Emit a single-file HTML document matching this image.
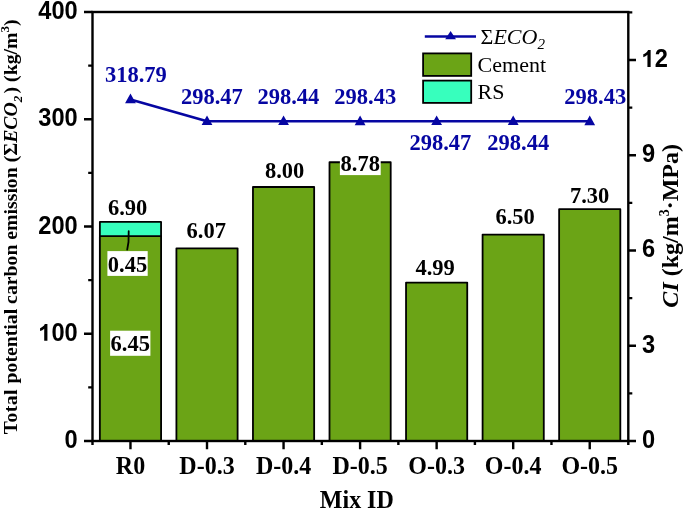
<!DOCTYPE html><html><head><meta charset="utf-8"><style>html,body{margin:0;padding:0;background:#fff;width:685px;height:510px;overflow:hidden}svg{display:block;filter:blur(0.4px)}</style></head><body>
<svg width="685" height="510" viewBox="0 0 685 510">
<rect width="685" height="510" fill="#fff"/>
<rect x="99.87" y="221.92" width="61.2" height="219.08" fill="#37ffbd" stroke="#000" stroke-width="1.8" stroke-linejoin="round"/>
<rect x="99.87" y="236.21" width="61.2" height="204.79" fill="#6ba416" stroke="#000" stroke-width="1.8" stroke-linejoin="round"/>
<rect x="176.41" y="248.28" width="61.2" height="192.72" fill="#6ba416" stroke="#000" stroke-width="1.8" stroke-linejoin="round"/>
<rect x="252.96" y="187.00" width="61.2" height="254.00" fill="#6ba416" stroke="#000" stroke-width="1.8" stroke-linejoin="round"/>
<rect x="329.50" y="162.24" width="61.2" height="278.76" fill="#6ba416" stroke="#000" stroke-width="1.8" stroke-linejoin="round"/>
<rect x="406.04" y="282.57" width="61.2" height="158.43" fill="#6ba416" stroke="#000" stroke-width="1.8" stroke-linejoin="round"/>
<rect x="482.59" y="234.62" width="61.2" height="206.38" fill="#6ba416" stroke="#000" stroke-width="1.8" stroke-linejoin="round"/>
<rect x="559.13" y="209.22" width="61.2" height="231.78" fill="#6ba416" stroke="#000" stroke-width="1.8" stroke-linejoin="round"/>
<rect x="107.4" y="251.1" width="40.3" height="24.8" fill="#fff"/>
<rect x="110.1" y="330.7" width="40.3" height="25.1" fill="#fff"/>
<rect x="339.9" y="150" width="40.8" height="25.1" fill="#fff"/>
<polyline points="128.7,231.2 128.5,242 127.2,249.6" fill="none" stroke="#000" stroke-width="1.8" stroke-linecap="round" stroke-linejoin="round"/>
<rect x="92.5" y="12.0" width="535.80" height="429.0" fill="none" stroke="#000" stroke-width="2.4"/>
<path d="M84.0,441.00H92.5 M84.0,333.75H92.5 M84.0,226.50H92.5 M84.0,119.25H92.5 M84.0,12.00H92.5 M88.2,387.38H92.5 M88.2,280.12H92.5 M88.2,172.88H92.5 M88.2,65.62H92.5 M628.3,441.00H636.0 M628.3,345.75H636.0 M628.3,250.50H636.0 M628.3,155.25H636.0 M628.3,60.00H636.0 M628.3,393.38H632.3 M628.3,298.12H632.3 M628.3,202.88H632.3 M628.3,107.62H632.3 M628.3,12.38H632.3 M130.47,441.0V449.3 M207.01,441.0V449.3 M283.56,441.0V449.3 M360.10,441.0V449.3 M436.64,441.0V449.3 M513.19,441.0V449.3 M589.73,441.0V449.3 M92.50,441.0V445.0 M168.74,441.0V445.0 M245.29,441.0V445.0 M321.83,441.0V445.0 M398.37,441.0V445.0 M474.91,441.0V445.0 M551.46,441.0V445.0 M628.30,441.0V445.0" stroke="#000" stroke-width="2.4" fill="none"/>
<polyline points="130.47,99.40 207.01,121.19 283.56,121.22 360.10,121.23 436.64,121.19 513.19,121.22 589.73,121.23" fill="none" stroke="#0606a2" stroke-width="2.6" stroke-linejoin="round"/>
<path d="M130.47,93.60L135.87,103.30L125.07,103.30Z M207.01,115.39L212.41,125.09L201.61,125.09Z M283.56,115.42L288.96,125.12L278.16,125.12Z M360.10,115.43L365.50,125.13L354.70,125.13Z M436.64,115.39L442.04,125.09L431.24,125.09Z M513.19,115.42L518.59,125.12L507.79,125.12Z M589.73,115.43L595.13,125.13L584.33,125.13Z" fill="#0606a2"/>
<text transform="translate(77.7,448.00) scale(0.985,1.04)" font-family="Liberation Sans" font-weight="bold" font-size="24" text-anchor="end">0</text>
<text transform="translate(77.7,340.75) scale(0.985,1.04)" font-family="Liberation Sans" font-weight="bold" font-size="24" text-anchor="end">00</text>
<path transform="translate(38.28,340.75) scale(0.01171875)" d="M780,0H506V-1032Q356,-892 152,-825V-1073Q259,-1108 385,-1206T558,-1436H780Z" fill="#000"/>
<text transform="translate(77.7,233.50) scale(0.985,1.04)" font-family="Liberation Sans" font-weight="bold" font-size="24" text-anchor="end">200</text>
<text transform="translate(77.7,126.25) scale(0.985,1.04)" font-family="Liberation Sans" font-weight="bold" font-size="24" text-anchor="end">300</text>
<text transform="translate(77.7,19.00) scale(0.985,1.04)" font-family="Liberation Sans" font-weight="bold" font-size="24" text-anchor="end">400</text>
<text transform="translate(642,447.90) scale(0.985,1.04)" font-family="Liberation Sans" font-weight="bold" font-size="24">0</text>
<text transform="translate(642,352.65) scale(0.985,1.04)" font-family="Liberation Sans" font-weight="bold" font-size="24">3</text>
<text transform="translate(642,257.40) scale(0.985,1.04)" font-family="Liberation Sans" font-weight="bold" font-size="24">6</text>
<text transform="translate(642,162.15) scale(0.985,1.04)" font-family="Liberation Sans" font-weight="bold" font-size="24">9</text>
<path transform="translate(641.50,66.90) scale(0.01171875)" d="M780,0H506V-1032Q356,-892 152,-825V-1073Q259,-1108 385,-1206T558,-1436H780Z" fill="#000"/>
<text transform="translate(654.64,66.90) scale(0.985,1.04)" font-family="Liberation Sans" font-weight="bold" font-size="24">2</text>
<text transform="translate(130.47,473.9) scale(1,1.07)" font-family="Liberation Serif" font-weight="bold" font-size="24" text-anchor="middle">R0</text>
<text transform="translate(207.01,473.9) scale(1,1.07)" font-family="Liberation Serif" font-weight="bold" font-size="24" text-anchor="middle">D-0.3</text>
<text transform="translate(283.56,473.9) scale(1,1.07)" font-family="Liberation Serif" font-weight="bold" font-size="24" text-anchor="middle">D-0.4</text>
<text transform="translate(360.10,473.9) scale(1,1.07)" font-family="Liberation Serif" font-weight="bold" font-size="24" text-anchor="middle">D-0.5</text>
<text transform="translate(436.64,473.9) scale(1,1.07)" font-family="Liberation Serif" font-weight="bold" font-size="24" text-anchor="middle">O-0.3</text>
<text transform="translate(513.19,473.9) scale(1,1.07)" font-family="Liberation Serif" font-weight="bold" font-size="24" text-anchor="middle">O-0.4</text>
<text transform="translate(589.73,473.9) scale(1,1.07)" font-family="Liberation Serif" font-weight="bold" font-size="24" text-anchor="middle">O-0.5</text>
<text transform="translate(356.8,507.7) scale(1,1.07)" font-family="Liberation Serif" font-weight="bold" font-size="24" text-anchor="middle">Mix ID</text>
<text x="135.85" y="82.1" font-family="Liberation Serif" font-weight="bold" font-size="22.5" fill="#0606a2" text-anchor="middle">318.79</text>
<text x="211.9" y="103.7" font-family="Liberation Serif" font-weight="bold" font-size="22.5" fill="#0606a2" text-anchor="middle">298.47</text>
<text x="288.4" y="103.9" font-family="Liberation Serif" font-weight="bold" font-size="22.5" fill="#0606a2" text-anchor="middle">298.44</text>
<text x="365.3" y="104" font-family="Liberation Serif" font-weight="bold" font-size="22.5" fill="#0606a2" text-anchor="middle">298.43</text>
<text x="440.4" y="149.7" font-family="Liberation Serif" font-weight="bold" font-size="22.5" fill="#0606a2" text-anchor="middle">298.47</text>
<text x="518.25" y="149.7" font-family="Liberation Serif" font-weight="bold" font-size="22.5" fill="#0606a2" text-anchor="middle">298.44</text>
<text x="595.3" y="103.9" font-family="Liberation Serif" font-weight="bold" font-size="22.5" fill="#0606a2" text-anchor="middle">298.43</text>
<text x="127.6" y="214.9" font-family="Liberation Serif" font-weight="bold" font-size="22.5" fill="#000" text-anchor="middle">6.90</text>
<text x="206.2" y="238" font-family="Liberation Serif" font-weight="bold" font-size="22.5" fill="#000" text-anchor="middle">6.07</text>
<text x="284.6" y="177.8" font-family="Liberation Serif" font-weight="bold" font-size="22.5" fill="#000" text-anchor="middle">8.00</text>
<text x="360.2" y="171" font-family="Liberation Serif" font-weight="bold" font-size="22.5" fill="#000" text-anchor="middle">8.78</text>
<text x="435.15" y="275.3" font-family="Liberation Serif" font-weight="bold" font-size="22.5" fill="#000" text-anchor="middle">4.99</text>
<text x="515.1" y="223.5" font-family="Liberation Serif" font-weight="bold" font-size="22.5" fill="#000" text-anchor="middle">6.50</text>
<text x="589.65" y="203.4" font-family="Liberation Serif" font-weight="bold" font-size="22.5" fill="#000" text-anchor="middle">7.30</text>
<text x="127.55" y="271.7" font-family="Liberation Serif" font-weight="bold" font-size="22.5" fill="#000" text-anchor="middle">0.45</text>
<text x="130.2" y="351.3" font-family="Liberation Serif" font-weight="bold" font-size="22.5" fill="#000" text-anchor="middle">6.45</text>
<path d="M424.8,36.5H476" stroke="#0606a2" stroke-width="2.6"/>
<path d="M450.6,30.9L456,39.3L445.2,39.3Z" fill="#0606a2"/>
<text x="480.6" y="43.6" font-family="Liberation Serif" font-size="22">&#931;<tspan font-style="italic">ECO</tspan><tspan font-style="italic" font-size="15" dy="5.8">2</tspan></text>
<rect x="423.1" y="53.4" width="48.1" height="22.5" fill="#6ba416" stroke="#000" stroke-width="1.8"/>
<rect x="423.1" y="80.6" width="48.1" height="22.3" fill="#37ffbd" stroke="#000" stroke-width="1.8"/>
<text x="477.6" y="72.1" font-family="Liberation Serif" font-size="22">Cement</text>
<text x="477.6" y="99.4" font-family="Liberation Serif" font-size="22">RS</text>
<text transform="translate(16.8,434.25) rotate(-90)" font-family="Liberation Serif" font-weight="bold" font-size="19.75"><tspan letter-spacing="0.4">Total</tspan><tspan dx="0.7"> potential carbon emission (&#931;</tspan><tspan font-style="italic">ECO</tspan><tspan font-style="italic" font-size="13" dy="5.5">2</tspan><tspan dy="-5.5" dx="-2.6"> ) (kg/m</tspan><tspan font-size="13" dy="-8">3</tspan><tspan dy="8">)</tspan></text>
<text transform="translate(678.4,225.8) rotate(-90)" font-family="Liberation Serif" font-weight="bold" font-size="24" text-anchor="middle"><tspan font-style="italic">CI</tspan> (kg/m<tspan font-size="14" dy="-9">3</tspan><tspan dy="9">&#183;MPa)</tspan></text>
</svg></body></html>
